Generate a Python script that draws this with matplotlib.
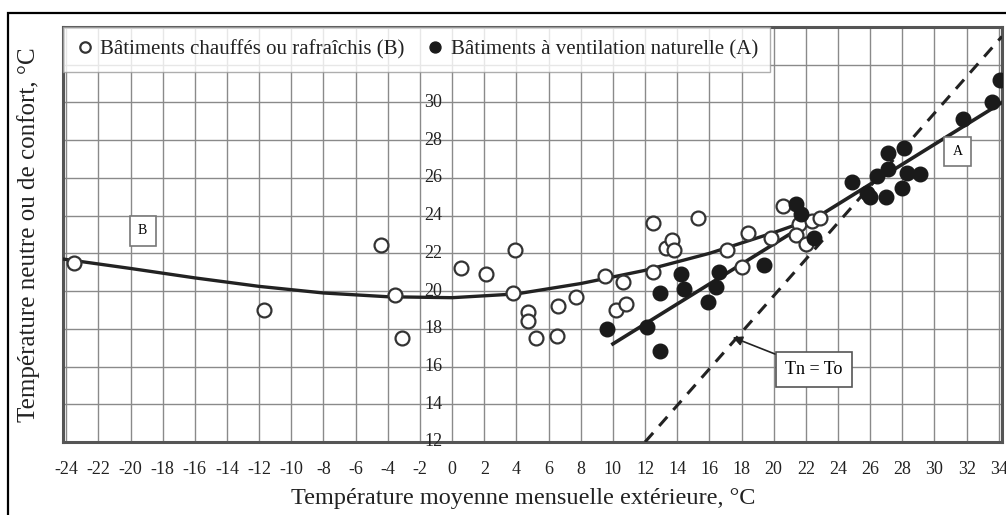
import matplotlib
matplotlib.use("Agg")
import matplotlib.pyplot as plt
from matplotlib.patches import Rectangle

plt.rcParams["font.family"] = ["Liberation Serif", "DejaVu Serif"]
plt.rcParams["axes.unicode_minus"] = False

# heated / cooled buildings (B), open circles
b_to = [-23.5, -11.7, -4.4, -3.55, -3.1, 0.55, 2.1, 3.9, 3.8, 4.75, 4.75, 5.2,
        6.6, 6.5, 7.7, 9.5, 10.65, 10.2, 10.8, 12.5, 12.5, 13.3, 13.7, 13.8,
        15.3, 17.1, 18.0, 18.4, 19.85, 20.6, 21.6, 21.4, 22.0, 22.4, 22.9]
b_tn = [21.5, 19.0, 22.45, 19.8, 17.5, 21.2, 20.9, 22.2, 19.9, 18.9, 18.4, 17.5,
        19.2, 17.6, 19.7, 20.8, 20.5, 19.0, 19.3, 23.6, 21.0, 22.3, 22.7, 22.2,
        23.9, 22.2, 21.3, 23.1, 22.8, 24.5, 23.55, 23.0, 22.5, 23.7, 23.9]

# naturally ventilated buildings (A), filled circles
a_to = [9.65, 12.15, 12.95, 12.9, 14.25, 14.45, 15.9, 16.4, 16.6, 19.4, 21.4,
        21.7, 22.5, 24.9, 25.8, 26.4, 26.0, 27.0, 27.1, 27.1, 27.95, 28.3,
        28.1, 29.1, 31.75, 33.6, 34.05]
a_tn = [18.0, 18.1, 16.8, 19.9, 20.9, 20.1, 19.4, 20.2, 21.0, 21.4, 24.6,
        24.1, 22.8, 25.8, 25.2, 26.1, 25.0, 25.0, 27.3, 26.45, 25.45, 26.25,
        27.6, 26.2, 29.1, 30.05, 31.2]

# regression curves
curve_b_to = [-24.2, -20, -16, -12, -8, -4, 0, 4, 8, 12, 16, 20, 23]
curve_b_tn = [21.7, 21.2, 20.7, 20.25, 19.9, 19.7, 19.65, 19.85, 20.4, 21.1, 22.0, 23.1, 24.0]
line_a_to = [10.0, 34.2]
line_a_tn = [17.2, 30.0]
neutral_to = [12.0, 34.2]
neutral_tn = [12.0, 33.5]

xticks = list(range(-24, 35, 2))
yticks = list(range(12, 31, 2))

fig = plt.figure(figsize=(10.06, 5.15), dpi=100)
ax = fig.add_axes([63 / 1006, 1 - 442 / 515, 939 / 1006, 415 / 515])

# outer frame of the figure
fig.patches.append(Rectangle((8 / 1006, -0.1), 1.2, 1 - 13 / 515 + 0.1,
                             transform=fig.transFigure, fill=False,
                             edgecolor="black", lw=1.6))

ax.set_xlim(-24.2, 34.2)
ax.set_ylim(12, 34)
ax.set_xticks(xticks)
ax.set_yticks(list(range(12, 35, 2)))
ax.set_yticklabels([])
ax.tick_params(axis="x", length=0, labelsize=13, pad=14, labelcolor="#222222")
ax.tick_params(axis="y", length=0)
ax.grid(True, color="#8a8a8a", lw=1.0)
ax.set_axisbelow(True)
for s in ax.spines.values():
    s.set_color("#555555")
    s.set_linewidth(2.2)

# y tick labels sit inside the plot, next to To = 0
for v in yticks:
    ax.text(-0.6, v, str(v), ha="right", va="center", fontsize=13,
            color="#222222")

ax.plot(neutral_to, neutral_tn, color="#222222", lw=2.2, ls=(0, (4, 3)), zorder=3)
ax.plot(curve_b_to, curve_b_tn, color="#222222", lw=2.4, zorder=3)
ax.plot(line_a_to, line_a_tn, color="#222222", lw=2.6, zorder=3)

ax.plot(b_to, b_tn, "o", ms=10, mfc="white", mec="#333333", mew=1.6, zorder=4,
        label="Bâtiments chauffés ou rafraîchis (B)")
ax.plot(a_to, a_tn, "o", ms=10.5, mfc="#1a1a1a", mec="#1a1a1a", zorder=5,
        label="Bâtiments à ventilation naturelle (A)")

leg = ax.legend(loc="upper left", ncol=2, fontsize=15, frameon=True,
                fancybox=False, borderaxespad=0, borderpad=0.6,
                handletextpad=0.3, columnspacing=1.0, handlelength=0.9,
                markerscale=0.75)
leg.get_frame().set_edgecolor("#9a9a9a")
leg.get_frame().set_linewidth(1.0)
leg.set_zorder(10)
for t in leg.get_texts():
    t.set_color("#222222")

box = dict(boxstyle="square,pad=0.6", facecolor="white", edgecolor="#777777", lw=1.2)
ax.text(-19.25, 23.2, "B", ha="center", va="center", fontsize=10, bbox=box, zorder=6)
ax.text(31.45, 27.4, "A", ha="center", va="center", fontsize=10, bbox=box, zorder=6)
ax.annotate("Tn = To", xy=(17.45, 17.55), xytext=(22.5, 15.85), ha="center",
            va="center", fontsize=13,
            bbox=dict(boxstyle="square,pad=0.5", facecolor="white",
                      edgecolor="#555555", lw=1.2),
            arrowprops=dict(arrowstyle="-|>", color="#222222", lw=1.2,
                            mutation_scale=14, shrinkA=0, shrinkB=0),
            zorder=6)

ax.set_xlabel("Température moyenne mensuelle extérieure, °C", fontsize=17.5,
              color="#222222")
ax.xaxis.set_label_coords(0.49, -0.11)
ax.set_ylabel("Température neutre ou de confort, °C", fontsize=18,
              color="#222222")
ax.yaxis.set_label_coords(-0.024, 0.5)

fig.savefig("out.png", dpi=100)
